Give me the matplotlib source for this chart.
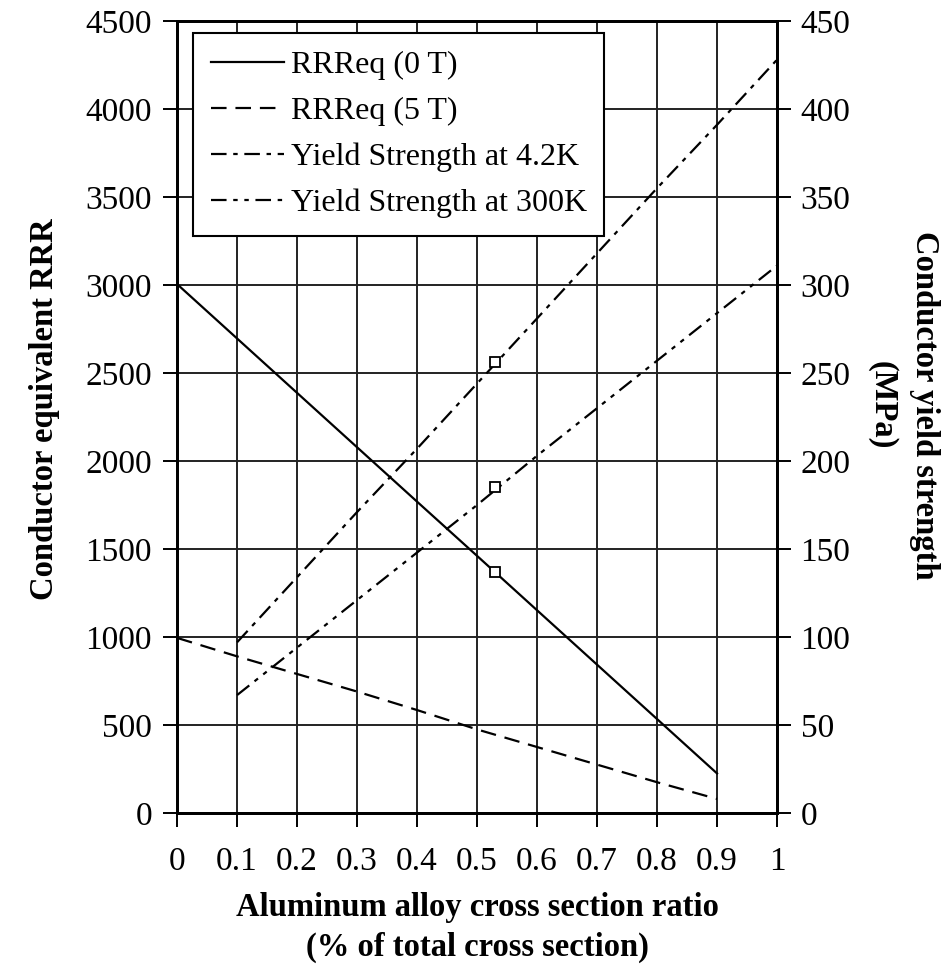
import matplotlib
matplotlib.use('Agg')
import matplotlib.pyplot as plt
import numpy as np

plt.rcParams['font.family'] = ['Liberation Serif', 'DejaVu Serif']

# Data
ratio_rrr = [0.0, 0.1, 0.2, 0.3, 0.4, 0.5, 0.6, 0.7, 0.8, 0.9]
rrr_0t = [3005, 2696, 2387, 2078, 1769, 1461, 1152, 843, 534, 225]
rrr_5t = [995, 890, 790, 690, 585, 475, 375, 275, 175, 80]

ratio_ys = [0.1, 0.2, 0.3, 0.4, 0.5, 0.6, 0.7, 0.8, 0.9, 1.0]
ys_4k = [97, 134, 171, 207, 244, 281, 318, 355, 391, 428]
ys_300k = [67, 94, 121, 148, 175, 203, 230, 257, 284, 311]

# Design point markers
design_x = [0.53]
design_rrr = [1370]
design_4k = [256]
design_300k = [185]

x_ticks = [0, 0.1, 0.2, 0.3, 0.4, 0.5, 0.6, 0.7, 0.8, 0.9, 1]
x_ticklabels = ['0', '0.1', '0.2', '0.3', '0.4', '0.5', '0.6', '0.7', '0.8', '0.9', '1']

TICK_FS = 24
LABEL_FS = 23.5
fig = plt.figure(figsize=(9.47, 9.71), dpi=100)
ax = fig.add_axes([0.187, 0.1627, 0.8205 - 0.187, 0.9784 - 0.1627])
ax2 = ax.twinx()

l1, = ax.plot(ratio_rrr, rrr_0t, color='black', lw=1.6, ls='-', label='RRReq (0 T)')
l2, = ax.plot(ratio_rrr, rrr_5t, color='black', lw=1.6, ls=(0, (7, 4)), label='RRReq (5 T)')
ax.plot(design_x, design_rrr, 's', mfc='white', mec='black', ms=7, mew=1.3)

l3, = ax2.plot(ratio_ys, ys_4k, color='black', lw=1.6, ls=(0, (7, 3, 2, 3)),
               label='Yield Strength at 4.2K')
l4, = ax2.plot(ratio_ys, ys_300k, color='black', lw=1.6, ls=(0, (7, 3, 2, 3, 2, 3)),
               label='Yield Strength at 300K')
ax2.plot(design_x, design_4k, 's', mfc='white', mec='black', ms=7, mew=1.3)
ax2.plot(design_x, design_300k, 's', mfc='white', mec='black', ms=7, mew=1.3)

ax.set_xlim(0, 1)
ax.set_ylim(0, 4500)
ax2.set_ylim(0, 450)
ax.set_xticks(x_ticks)
ax.set_xticklabels(x_ticklabels)
ax.set_yticks(np.arange(0, 4501, 500))
ax2.set_yticks(np.arange(0, 451, 50))

ax.grid(True, color='#222222', lw=1.4)
ax.set_axisbelow(True)

for a in (ax, ax2):
    for s in a.spines.values():
        s.set_linewidth(2)
ax.tick_params(axis='x', direction='out', length=10, width=1.4, pad=14, labelsize=TICK_FS)
ax.tick_params(axis='y', direction='out', length=10, width=1.4, pad=8, labelsize=TICK_FS)
ax2.tick_params(axis='y', direction='out', length=10, width=1.4, pad=7, labelsize=TICK_FS)

ax.set_xlabel('Aluminum alloy cross section ratio\n(% of total cross section)',
              fontsize=LABEL_FS, fontweight='bold', labelpad=11, linespacing=1.35)
ax.set_ylabel('Conductor equivalent RRR', fontsize=LABEL_FS, fontweight='bold')
ax.yaxis.set_label_coords(-0.195, 0.51)
ax2.set_ylabel('Conductor yield strength\n(MPa)', fontsize=LABEL_FS, fontweight='bold',
               rotation=270, va='center', linespacing=1.45)
ax2.yaxis.set_label_coords(1.21, 0.515)

leg = ax.legend(handles=[l1, l2, l3, l4], loc='upper left', fontsize=23,
                bbox_to_anchor=(0.027, 0.985), borderaxespad=0, fancybox=False,
                framealpha=1, edgecolor='black', handlelength=2.3, handletextpad=0.2,
                borderpad=0.55, labelspacing=0.52)
leg.get_frame().set_linewidth(1.5)
leg.set_zorder(5)

fig.savefig('out.png', dpi=100, facecolor='white')
